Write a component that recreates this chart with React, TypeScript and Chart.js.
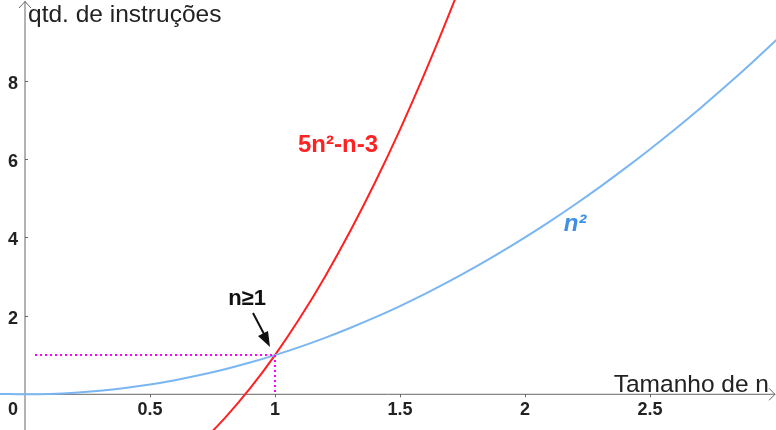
import React, { useEffect, useRef } from "react";
import { Chart, registerables } from "chart.js";

Chart.register(...registerables);

// n samples (x axis) and curve values
const nBlue = [-0.1, 0, 0.1, 0.2, 0.3, 0.4, 0.5, 0.6, 0.7, 0.8, 0.9, 1, 1.1, 1.2, 1.3, 1.4, 1.5, 1.6, 1.7, 1.8, 1.9, 2, 2.1, 2.2, 2.3, 2.4, 2.5, 2.6, 2.7, 2.8, 2.9, 3, 3.1];
const squareVals = [0.01, 0, 0.01, 0.04, 0.09, 0.16, 0.25, 0.36, 0.49, 0.64, 0.81, 1, 1.21, 1.44, 1.69, 1.96, 2.25, 2.56, 2.89, 3.24, 3.61, 4, 4.41, 4.84, 5.29, 5.76, 6.25, 6.76, 7.29, 7.84, 8.41, 9, 9.61];
const nRed = [0.6, 0.7, 0.8, 0.9, 1, 1.1, 1.2, 1.3, 1.4, 1.5, 1.6, 1.7, 1.8, 1.9];
const polyVals = [-1.8, -1.25, -0.6, 0.15, 1, 1.95, 3, 4.15, 5.4, 6.75, 8.2, 9.75, 11.4, 13.15];
const hGuideX = [0.04, 1];
const hGuideY = [1, 1];
const vGuideX = [1, 1];
const vGuideY = [1, 0];
const xTicks = [0.5, 1, 1.5, 2, 2.5];
const xTickLabels = ["0.5", "1", "1.5", "2", "2.5"];
const yTicks = [2, 4, 6, 8];
const yTickLabels = ["2", "4", "6", "8"];

const FONT = "'Liberation Sans', Arial, sans-serif";

const decor = {
  id: "decor",
  beforeDatasetsDraw(chart: any) {
    const ctx = chart.ctx;
    const xs = chart.scales.x;
    const ys = chart.scales.y;
    const x0 = xs.getPixelForValue(0);
    const y0 = ys.getPixelForValue(0);
    const W = chart.width;
    ctx.save();
    ctx.strokeStyle = "#666";
    ctx.lineWidth = 1;
    ctx.beginPath();
    ctx.moveTo(0, y0);
    ctx.lineTo(W - 1, y0);
    ctx.moveTo(x0, chart.height);
    ctx.lineTo(x0, 1);
    ctx.stroke();
    // arrows
    ctx.beginPath();
    ctx.moveTo(x0 - 6, 8);
    ctx.lineTo(x0, 1.5);
    ctx.lineTo(x0 + 6, 8);
    ctx.moveTo(W - 7, y0 - 6);
    ctx.lineTo(W - 1, y0);
    ctx.lineTo(W - 7, y0 + 6);
    ctx.stroke();
    // tick marks
    ctx.beginPath();
    xTicks.forEach((v) => {
      const px = Math.round(xs.getPixelForValue(v)) + 0.5;
      ctx.moveTo(px, y0);
      ctx.lineTo(px, y0 + 3);
    });
    yTicks.forEach((v) => {
      const py = Math.round(ys.getPixelForValue(v)) + 0.5;
      ctx.moveTo(x0, py);
      ctx.lineTo(x0 + 3, py);
    });
    ctx.stroke();
    // tick labels
    ctx.fillStyle = "#222";
    ctx.font = `bold 18px ${FONT}`;
    ctx.textAlign = "center";
    ctx.textBaseline = "alphabetic";
    xTicks.forEach((v, i) => {
      ctx.fillText(xTickLabels[i], xs.getPixelForValue(v), y0 + 21);
    });
    ctx.fillText("0", x0 - 12, y0 + 21);
    ctx.textAlign = "right";
    yTicks.forEach((v, i) => {
      ctx.fillText(yTickLabels[i], x0 - 7, ys.getPixelForValue(v) + 8);
    });
    // axis titles
    ctx.fillStyle = "#222";
    ctx.font = `24.5px ${FONT}`;
    ctx.textAlign = "left";
    ctx.fillText("qtd. de instruções", x0 + 3, 22);
    ctx.textAlign = "right";
    ctx.fillText("Tamanho de n", W - 7, y0 - 2);
    ctx.restore();
  },
  afterDatasetsDraw(chart: any) {
    const ctx = chart.ctx;
    ctx.save();
    ctx.textAlign = "center";
    ctx.textBaseline = "middle";
    ctx.fillStyle = "#f22";
    ctx.font = `bold 24px ${FONT}`;
    ctx.fillText("5n²-n-3", 338, 145);
    ctx.fillStyle = "#3d8fe8";
    ctx.font = `italic bold 24px ${FONT}`;
    ctx.fillText("n²", 575, 224);
    ctx.fillStyle = "#111";
    ctx.font = `bold 22px ${FONT}`;
    ctx.fillText("n≥1", 247, 299);
    // arrow
    ctx.strokeStyle = "#111";
    ctx.lineWidth = 2;
    ctx.beginPath();
    ctx.moveTo(253, 313);
    ctx.lineTo(264, 334);
    ctx.stroke();
    ctx.beginPath();
    ctx.moveTo(270, 347);
    ctx.lineTo(258, 336);
    ctx.lineTo(268, 331);
    ctx.closePath();
    ctx.fillStyle = "#111";
    ctx.fill();
    ctx.restore();
  },
};

export default function App() {
  const ref = useRef<HTMLCanvasElement>(null);
  useEffect(() => {
    document.body.style.margin = "0";
    const toPts = (xs: number[], ys: number[]) => xs.map((x, i) => ({ x, y: ys[i] }));
    const chart = new Chart(ref.current!, {
      type: "scatter",
      data: {
        datasets: [
          {
            data: toPts(hGuideX, hGuideY),
            showLine: true,
            borderColor: "#ff00ff",
            borderWidth: 2,
            borderDash: [2, 3],
            pointRadius: 0,
          },
          {
            data: toPts(vGuideX, vGuideY),
            showLine: true,
            borderColor: "#ff00ff",
            borderWidth: 2,
            borderDash: [2, 3],
            pointRadius: 0,
          },
          {
            data: toPts(nBlue, squareVals),
            showLine: true,
            borderColor: "#7ab6f2",
            borderWidth: 2,
            pointRadius: 0,
            cubicInterpolationMode: "monotone",
          },
          {
            data: toPts(nRed, polyVals),
            showLine: true,
            borderColor: "#ff2020",
            borderWidth: 2,
            pointRadius: 0,
            cubicInterpolationMode: "monotone",
          },
        ],
      },
      options: {
        animation: false,
        responsive: false,
        layout: { padding: 0 },
        plugins: { legend: { display: false }, tooltip: { enabled: false } },
        scales: {
          x: { type: "linear", min: -0.1, max: 3.004, display: false },
          y: { type: "linear", min: -0.91, max: 10.054, display: false },
        },
      },
      plugins: [decor],
    } as any);
    return () => chart.destroy();
  }, []);
  return (
    <div style={{ position: "fixed", left: 0, top: 0, width: 776, height: 430 }}>
      <canvas ref={ref} width={776} height={430} />
    </div>
  );
}
